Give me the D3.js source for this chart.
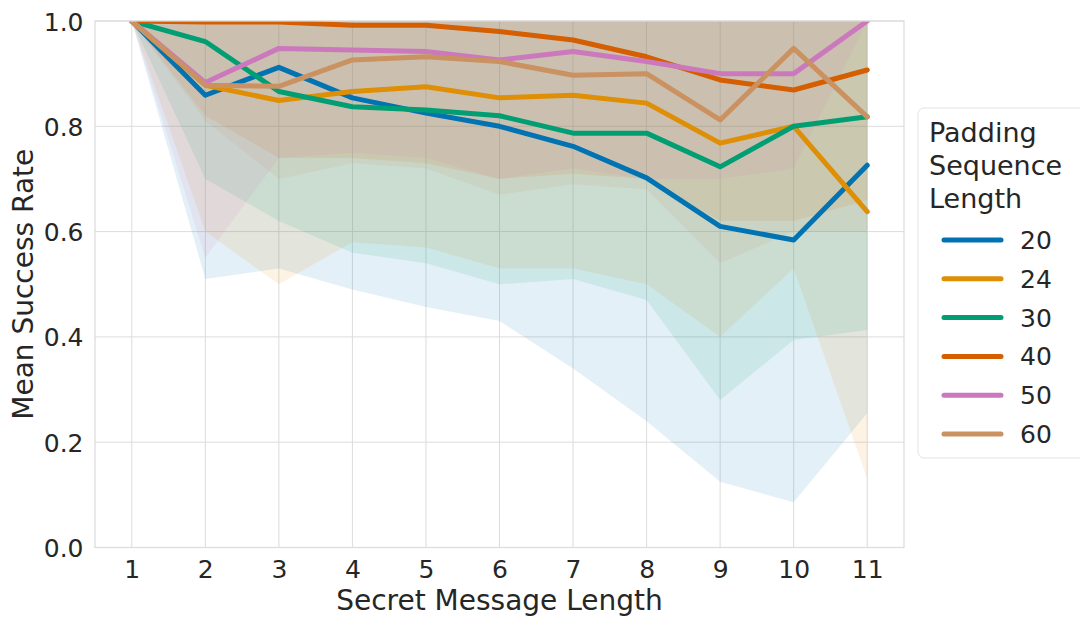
<!DOCTYPE html>
<html>
<head>
<meta charset="utf-8">
<script src="https://cdn.jsdelivr.net/npm/d3@7"></script>
<style>
  html, body { margin: 0; padding: 0; background: #ffffff; }
  svg { display: block; font-family: "DejaVu Sans", sans-serif; }
</style>
</head>
<body>
<svg id="chart" width="1080" height="620"></svg>
<script>
// ---------------- data ----------------
const xValues = [1, 2, 3, 4, 5, 6, 7, 8, 9, 10, 11];
const seriesNames = ["20", "24", "30", "40", "50", "60"];
const seriesColors = ["#0173b2", "#de8f05", "#029e73", "#d55e00", "#cc78bc", "#ca9161"];

const mean20 = [1.0, 0.859, 0.912, 0.854, 0.825, 0.800, 0.762, 0.702, 0.610, 0.584, 0.726];
const mean24 = [1.0, 0.878, 0.849, 0.866, 0.875, 0.854, 0.859, 0.844, 0.768, 0.800, 0.638];
const mean30 = [1.0, 0.961, 0.866, 0.837, 0.831, 0.820, 0.787, 0.787, 0.723, 0.800, 0.818];
const mean40 = [1.0, 0.998, 0.998, 0.992, 0.992, 0.980, 0.964, 0.932, 0.888, 0.869, 0.907];
const mean50 = [1.0, 0.883, 0.948, 0.945, 0.942, 0.926, 0.942, 0.923, 0.900, 0.900, 1.0];
const mean60 = [1.0, 0.878, 0.876, 0.926, 0.932, 0.923, 0.897, 0.900, 0.812, 0.948, 0.818];

const low20 = [1.0, 0.51, 0.53, 0.49, 0.457, 0.43, 0.34, 0.24, 0.125, 0.086, 0.255];
const low24 = [1.0, 0.60, 0.50, 0.58, 0.57, 0.53, 0.53, 0.50, 0.40, 0.53, 0.13];
const low30 = [1.0, 0.70, 0.62, 0.56, 0.54, 0.50, 0.51, 0.47, 0.28, 0.394, 0.413];
const low40 = [1.0, 0.82, 0.74, 0.74, 0.73, 0.70, 0.71, 0.70, 0.62, 0.62, 0.66];
const low50 = [1.0, 0.55, 0.74, 0.75, 0.74, 0.70, 0.72, 0.70, 0.70, 0.72, 1.0];
const low60 = [1.0, 0.81, 0.70, 0.73, 0.72, 0.67, 0.69, 0.68, 0.54, 0.60, 0.60];

const high20 = [1.0, 1.0, 1.0, 1.0, 1.0, 1.0, 1.0, 1.0, 1.0, 1.0, 1.0];
const high24 = [1.0, 1.0, 1.0, 1.0, 1.0, 1.0, 1.0, 1.0, 1.0, 1.0, 1.0];
const high30 = [1.0, 1.0, 1.0, 1.0, 1.0, 1.0, 1.0, 1.0, 1.0, 1.0, 1.0];
const high40 = [1.0, 1.0, 1.0, 1.0, 1.0, 1.0, 1.0, 1.0, 1.0, 1.0, 1.0];
const high50 = [1.0, 1.0, 1.0, 1.0, 1.0, 1.0, 1.0, 1.0, 1.0, 1.0, 1.0];
const high60 = [1.0, 1.0, 1.0, 1.0, 1.0, 1.0, 1.0, 1.0, 1.0, 1.0, 1.0];

const yTicks = [0.0, 0.2, 0.4, 0.6, 0.8, 1.0];
const xLabel = "Secret Message Length";
const yLabel = "Mean Success Rate";
const legendTitle = ["Padding", "Sequence", "Length"];

const means = [mean20, mean24, mean30, mean40, mean50, mean60];
const lows = [low20, low24, low30, low40, low50, low60];
const highs = [high20, high24, high30, high40, high50, high60];

// ---------------- layout ----------------
const L = 95, R = 904, T = 21, B = 547.5;
const textColor = "#262626";
const gridColor = "#dcdcdc";

const svg = d3.select("#chart");
const x = d3.scaleLinear().domain([0.5, 11.5]).range([L, R]);
const y = d3.scaleLinear().domain([0, 1]).range([B, T]);

svg.append("defs").append("clipPath").attr("id", "plotclip")
  .append("rect").attr("x", L).attr("y", T).attr("width", R - L).attr("height", B - T);

// grid
const grid = svg.append("g");
grid.selectAll("line.vx").data(xValues).join("line")
  .attr("x1", d => x(d)).attr("x2", d => x(d)).attr("y1", T).attr("y2", B)
  .attr("stroke", gridColor).attr("stroke-width", 1);
grid.selectAll("line.hy").data(yTicks).join("line")
  .attr("x1", L).attr("x2", R).attr("y1", d => y(d)).attr("y2", d => y(d))
  .attr("stroke", gridColor).attr("stroke-width", 1);

// bands
const plot = svg.append("g").attr("clip-path", "url(#plotclip)");
const area = d3.area()
  .x(d => x(d.x)).y0(d => y(d.lo)).y1(d => y(d.hi));
const line = d3.line().x(d => x(d.x)).y(d => y(d.v));

seriesNames.forEach((name, i) => {
  const pts = xValues.map((xv, j) => ({ x: xv, lo: lows[i][j], hi: highs[i][j] }));
  plot.append("path").datum(pts)
    .attr("d", area)
    .attr("fill", seriesColors[i])
    .attr("fill-opacity", 0.105)
    .attr("stroke", "none");
});
seriesNames.forEach((name, i) => {
  const pts = xValues.map((xv, j) => ({ x: xv, v: means[i][j] }));
  plot.append("path").datum(pts)
    .attr("d", line)
    .attr("fill", "none")
    .attr("stroke", seriesColors[i])
    .attr("stroke-width", 5)
    .attr("stroke-linejoin", "round")
    .attr("stroke-linecap", "round");
});

// frame
svg.append("rect").attr("x", L).attr("y", T).attr("width", R - L).attr("height", B - T)
  .attr("fill", "none").attr("stroke", gridColor).attr("stroke-width", 1.25);

// axes
const xAxis = svg.append("g").attr("transform", `translate(0,${B})`)
  .call(d3.axisBottom(x).tickValues(xValues).tickSize(0).tickFormat(d3.format("d")));
xAxis.select(".domain").remove();
xAxis.selectAll("text").attr("y", 30.5).attr("dy", 0)
  .attr("font-size", 25).attr("fill", textColor).attr("font-family", "DejaVu Sans");

const yAxis = svg.append("g").attr("transform", `translate(${L},0)`)
  .call(d3.axisLeft(y).tickValues(yTicks).tickSize(0).tickFormat(d3.format(".1f")));
yAxis.select(".domain").remove();
yAxis.selectAll("text").attr("x", -11.5).attr("dy", "0.36em")
  .attr("font-size", 25).attr("fill", textColor).attr("font-family", "DejaVu Sans");

// axis labels
svg.append("text").attr("x", (L + R) / 2).attr("y", 610)
  .attr("text-anchor", "middle").attr("font-size", 28).attr("fill", textColor)
  .text(xLabel);
svg.append("text").attr("transform", `translate(33,${(T + B) / 2}) rotate(-90)`)
  .attr("text-anchor", "middle").attr("font-size", 28).attr("fill", textColor)
  .text(yLabel);

// legend
const lg = svg.append("g");
lg.append("rect").attr("x", 918).attr("y", 108).attr("width", 200).attr("height", 350)
  .attr("rx", 6).attr("fill", "#ffffff").attr("fill-opacity", 0.8)
  .attr("stroke", "#e3e3e3").attr("stroke-width", 1);
const titleY = [142, 175, 208];
legendTitle.forEach((t, i) => {
  lg.append("text").attr("x", 929).attr("y", titleY[i])
    .attr("font-size", 27).attr("fill", textColor).text(t);
});
const rowY = d3.scalePoint().domain(seriesNames).range([240, 434]);
seriesNames.forEach((name, i) => {
  lg.append("line").attr("x1", 944).attr("x2", 1001)
    .attr("y1", rowY(name)).attr("y2", rowY(name))
    .attr("stroke", seriesColors[i]).attr("stroke-width", 5).attr("stroke-linecap", "round");
  lg.append("text").attr("x", 1020).attr("y", rowY(name)).attr("dy", "0.36em")
    .attr("font-size", 25).attr("fill", textColor).text(name);
});
</script>
</body>
</html>
